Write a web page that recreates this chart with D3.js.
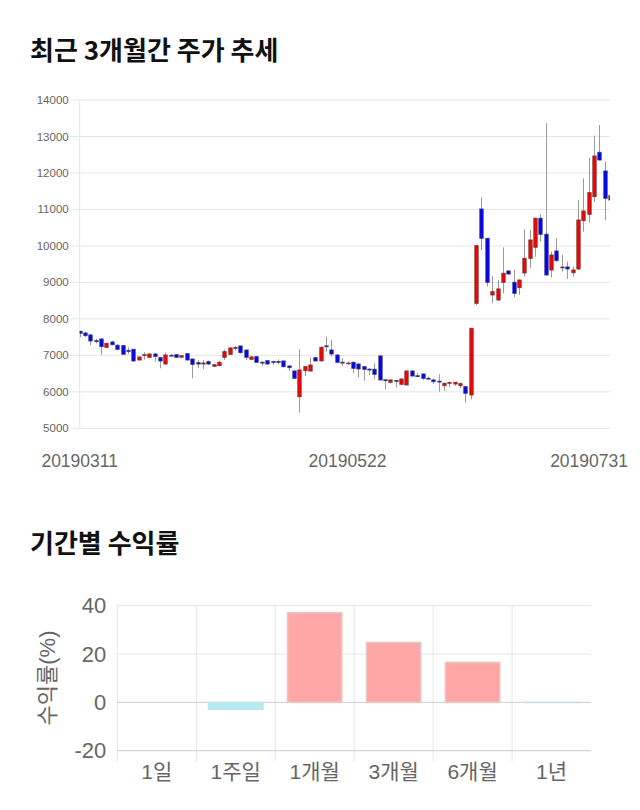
<!DOCTYPE html>
<html><head><meta charset="utf-8">
<script src="https://cdn.jsdelivr.net/npm/d3@7"></script>
<style>
body{margin:0;background:#fff}
svg{display:block}
text{font-family:"Liberation Sans",Arial,"Noto Sans CJK KR",sans-serif}
.title{font-family:"Noto Sans CJK KR","Liberation Sans",sans-serif;font-weight:bold}
</style>
</head><body>
<svg id="c" width="640" height="810"></svg>
<script>
// ---------- candle data ----------
const dates = [
"20190311","20190312","20190313","20190314","20190315","20190318","20190319","20190320","20190321","20190322",
"20190325","20190326","20190327","20190328","20190329",
"20190401","20190402","20190403","20190404","20190405","20190408","20190409","20190410","20190411","20190412",
"20190415","20190416","20190417","20190418","20190419","20190422","20190423","20190424","20190425","20190426",
"20190429","20190430",
"20190502","20190503","20190507","20190508","20190509","20190510","20190513","20190514","20190515","20190516",
"20190517","20190520","20190521","20190522","20190523","20190524","20190527","20190528","20190529","20190530","20190531",
"20190603","20190604","20190605","20190607","20190610","20190611","20190612","20190613","20190614",
"20190617","20190618","20190619","20190620","20190621","20190624","20190625","20190626","20190627","20190628",
"20190701","20190702","20190703","20190704","20190705","20190708","20190709","20190710","20190711","20190712",
"20190715","20190716","20190717","20190718","20190719","20190722","20190723","20190724","20190725","20190726",
"20190729","20190730","20190731"];
const open = [7660,7613,7560,7400,7450,7220,7366,7275,7266,7130,
7165,6873,7010,6946,7037,6937,6763,7000,7019,6950,
7046,6900,6800,6763,6827,6700,6718,6946,7028,7210,
7257,7147,6891,6964,6810,6855,6830,6830,6846,6709,
6571,5868,6581,6571,6937,6846,7260,7147,7010,6810,
6770,6809,6763,6690,6620,6617,6983,6330,6261,6310,
6206,6188,6571,6440,6489,6370,6325,6290,6170,6250,
6215,6170,6142,5914,8426,11012,10208,8655,8518,9002,
9313,9002,8856,9258,9660,9962,10757,10318,9340,9861,
9420,9423,9267,9368,10693,10866,11351,12566,12054,11259];
const high = [7670,7650,7585,7450,7460,7340,7400,7310,7280,7220,
7170,6960,7080,7060,7060,6960,7080,7040,7040,7000,
7060,6910,6870,6870,6860,6760,6850,7165,7230,7260,
7260,7150,6990,6980,6830,6870,6850,6890,6860,6720,
6590,7165,6700,6946,6950,7240,7512,7420,7030,6920,
6830,6830,6780,6700,6650,6780,7010,6330,6340,6320,
6370,6590,6600,6510,6510,6420,6370,6480,6250,6280,
6270,6260,6150,7750,10025,11332,10208,9176,9066,9962,
9340,9340,9080,10455,10436,10780,10866,13361,9843,10208,
9751,9569,9432,11259,11853,12420,13023,13315,12310,11625];
const low = [7495,7510,7275,7330,7020,7200,7275,7140,7010,7040,
6820,6860,6880,6930,6830,6645,6745,6980,6930,6920,
6860,6370,6650,6620,6740,6690,6700,6873,7010,7130,
7050,6873,6880,6800,6710,6750,6740,6750,6670,6570,
6360,5429,6434,6550,6840,6840,7101,6964,6790,6710,
6740,6507,6398,6306,6460,6343,6320,6069,6230,6115,
6180,6180,6420,6400,6330,6330,6215,6005,6023,6115,
6160,6095,5703,5790,8380,9888,8883,8426,8500,8700,
9200,8590,8655,9157,9404,9700,10117,9185,9130,9569,
9295,9093,9157,9340,10391,10638,11195,12340,10711,10528];
const close = [7605,7540,7394,7390,7240,7330,7293,7165,7030,7120,
6846,6955,7019,7037,6973,6846,7010,6992,6946,6990,
6873,6754,6763,6790,6763,6745,6809,7101,7202,7215,
7074,6946,6955,6809,6805,6763,6825,6820,6690,6663,
6370,6599,6690,6736,6846,7220,7250,7037,6809,6805,
6790,6645,6626,6617,6615,6480,6325,6320,6325,6300,
6352,6571,6434,6430,6370,6360,6279,6275,6233,6255,
6261,6224,5960,7740,10007,10208,9002,8746,8820,9249,
9230,8700,9066,9660,10163,10757,10318,9203,9751,9596,
9420,9368,9340,10711,10958,11460,12465,12355,11305,11378];
const priceTicks = [5000,6000,7000,8000,9000,10000,11000,12000,13000,14000];
const dateTickLabels = ["20190311","20190522","20190731"];

// ---------- return data ----------
const periods = ["1일","1주일","1개월","3개월","6개월","1년"];
const returns = [0,-2.9,37.1,24.8,16.6,-0.1];
const returnTicks = [-20,0,20,40];

const svg = d3.select("#c");

// titles
svg.append("text").attr("class","title").attr("x",30).attr("y",60)
  .attr("font-size",26).attr("fill","#111").text("최근 3개월간 주가 추세");
svg.append("text").attr("class","title").attr("x",30).attr("y",553)
  .attr("font-size",26).attr("fill","#111").text("기간별 수익률");

// ---------- candlestick ----------
const L = 79.7, R = 610, T = 100, B = 428.3;
const x = d3.scalePoint().domain(dates).range([L, R]);
const y = d3.scaleLinear().domain([5000,14000]).range([B, T]);

const g1 = svg.append("g");
g1.selectAll("line.grid").data(priceTicks).join("line")
  .attr("x1", L-10).attr("x2", R)
  .attr("y1", d=>y(d)).attr("y2", d=>y(d))
  .attr("stroke","#e6e6e6").attr("stroke-width",1);
g1.append("line").attr("x1",L).attr("x2",L).attr("y1",T).attr("y2",B)
  .attr("stroke","#e6e6e6");
g1.selectAll("text.yl").data(priceTicks).join("text")
  .attr("x", L-11).attr("y", d=>y(d)).attr("dy","0.35em")
  .attr("text-anchor","end").attr("font-size",11.5).attr("fill","#666")
  .text(d=>d);

const xl = g1.selectAll("text.xl").data(dateTickLabels).join("text")
  .attr("x", d=>x(d)).attr("y", 467)
  .attr("text-anchor","middle").attr("font-size",17.5).attr("fill","#666")
  .text(d=>d);
xl.each(function(){
  const bb = this.getBBox();
  if (bb.x + bb.width > 628) d3.select(this).attr("x", +d3.select(this).attr("x") - (bb.x + bb.width - 628));
});

svg.append("clipPath").attr("id","pc").append("rect")
  .attr("x",L).attr("y",T-5).attr("width",R-L).attr("height",B-T+10);
const cg = svg.append("g").attr("clip-path","url(#pc)");
const idx = d3.range(dates.length);
cg.selectAll("line.wick").data(idx).join("line")
  .attr("x1", i=>Math.round(x(dates[i]))+0.5).attr("x2", i=>Math.round(x(dates[i]))+0.5)
  .attr("y1", i=>y(high[i])).attr("y2", i=>y(low[i]))
  .attr("stroke","#9a9a9a").attr("stroke-width",1);
const bw = 3.4;
cg.selectAll("rect.body").data(idx).join("rect")
  .attr("x", i=>Math.round(x(dates[i]))+0.5-bw/2)
  .attr("width", bw)
  .attr("y", i=>y(Math.max(open[i],close[i])))
  .attr("height", i=>Math.max(0.8, Math.abs(y(open[i])-y(close[i]))))
  .attr("fill", i=> close[i]>open[i] ? "#ff0000" : close[i]<open[i] ? "#0000ff" : "#222")
  .attr("stroke", i=> close[i]>=open[i] ? "#6b3030" : "#303070")
  .attr("stroke-opacity",0.8)
  .attr("stroke-width",1);

// ---------- returns bar ----------
const BL = 117.3, BR = 591, BT = 605.7, BB = 750.7;
const xb = d3.scaleBand().domain(periods).range([BL, BR]);
const yb = d3.scaleLinear().domain([-20,40]).range([BB, BT]);
const g2 = svg.append("g");
g2.selectAll("line.vg").data(periods.slice(1)).join("line")
  .attr("x1", d=>xb(d)).attr("x2", d=>xb(d))
  .attr("y1", BT).attr("y2", BB+11)
  .attr("stroke","#e6e6e6");
g2.append("line").attr("x1",BL).attr("x2",BL).attr("y1",BT).attr("y2",BB+11)
  .attr("stroke","#e6e6e6");
g2.selectAll("line.hg").data(returnTicks).join("line")
  .attr("x1", BL).attr("x2", BR)
  .attr("y1", d=>yb(d)).attr("y2", d=>yb(d))
  .attr("stroke", d=> d===40||d===20 ? "#e6e6e6" : "#cccccc");
g2.selectAll("rect.bar").data(periods.filter((p,i)=>returns[i]!==0)).join("rect")
  .attr("x", d=>xb(d)+xb.bandwidth()*0.155)
  .attr("width", xb.bandwidth()*0.69)
  .attr("y", d=>{const v=returns[periods.indexOf(d)]; return yb(Math.max(0,v));})
  .attr("height", d=>{const v=returns[periods.indexOf(d)]; return Math.abs(yb(v)-yb(0));})
  .attr("fill", d=> returns[periods.indexOf(d)]>0 ? "#ffa6a6" : "#b3ebf2")
  .attr("stroke", d=> returns[periods.indexOf(d)]>0 ? "#e8c8c8" : "#c5e3ea")
  .attr("stroke-width",1.5);
g2.selectAll("text.byl").data(returnTicks).join("text")
  .attr("x", BL-11).attr("y", d=>yb(d)).attr("dy","0.35em")
  .attr("text-anchor","end").attr("font-size",22).attr("fill","#666")
  .text(d=>d);
g2.selectAll("text.bxl").data(periods).join("text")
  .attr("x", d=>xb(d)+xb.bandwidth()/2).attr("y", 779)
  .attr("text-anchor","middle").attr("font-size",21).attr("fill","#666")
  .text(d=>d);
g2.append("text").attr("transform","translate(55,678) rotate(-90)")
  .attr("text-anchor","middle").attr("font-size",22).attr("fill","#666")
  .text("수익률(%)");
</script>
</body></html>
